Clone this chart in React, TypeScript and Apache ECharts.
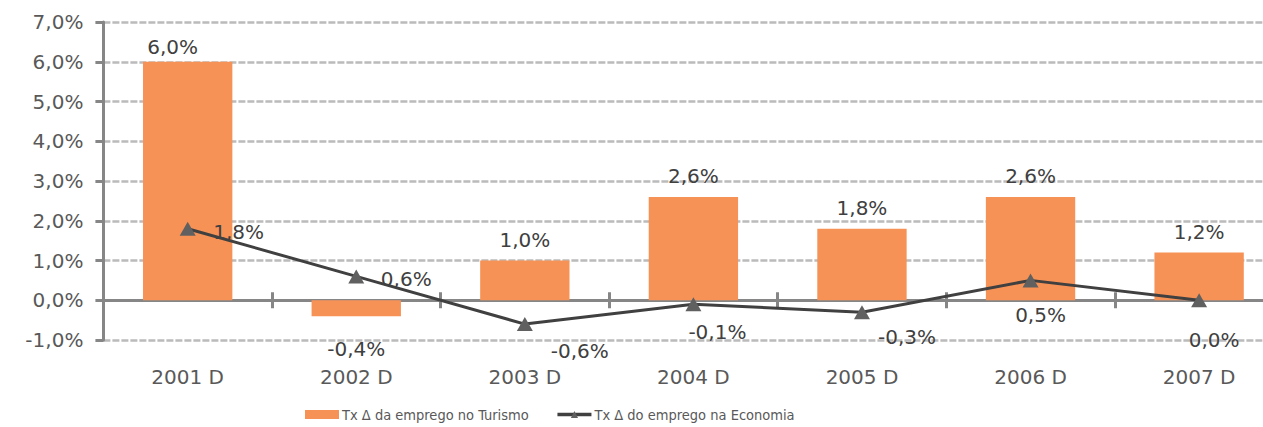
import React, { useEffect, useRef } from "react";
import * as echarts from "echarts";

const categories = ["2001 D", "2002 D", "2003 D", "2004 D", "2005 D", "2006 D", "2007 D"];
const turismo = [6.0, -0.4, 1.0, 2.6, 1.8, 2.6, 1.2];
const economia = [1.8, 0.6, -0.6, -0.1, -0.3, 0.5, 0.0];
const yTicks = { min: -1, max: 7, interval: 1 };
const economiaLabelOffsets: number[][] = [[51, 3], [50, 3], [55, 27], [24, 28], [45, 25], [10, 35], [15, 40]];

const fmt = (v: number) => v.toFixed(1).replace(".", ",") + "%";
const FONT = "DejaVu Sans, Verdana, sans-serif";
const AXIS_GRAY = "#868686";

export default function App() {
  const ref = useRef<HTMLDivElement>(null);
  useEffect(() => {
    const chart = echarts.init(ref.current!, null, { renderer: "svg" });
    chart.setOption({
      animation: false,
      backgroundColor: "#ffffff",
      textStyle: { fontFamily: FONT },
      grid: { left: 103.4, width: 1180, top: 22, bottom: 87, containLabel: false, outerBoundsMode: "none" },
      legend: {
        left: 300,
        top: 402,
        itemGap: 27,
        itemWidth: 34,
        itemHeight: 9,
        textStyle: { fontFamily: "DejaVu Sans Condensed, DejaVu Sans, sans-serif", fontSize: 14.5, color: "#595959", padding: [0, 0, 0, -2] },
        data: [
          { name: "Tx Δ da emprego no Turismo", icon: "rect" },
          { name: "Tx Δ do emprego na Economia", lineStyle: { width: 3.5, color: "#404040" } },
        ],
      },
      xAxis: [
        {
          type: "category",
          data: categories,
          boundaryGap: true,
          axisLine: { onZero: true, onZeroAxisIndex: 0, lineStyle: { color: AXIS_GRAY, width: 3 } },
          axisTick: { show: true, length: 8, inside: false, lineStyle: { color: AXIS_GRAY, width: 3 } },
          axisLabel: { show: false },
          splitLine: { show: false },
        },
        {
          type: "category",
          data: categories,
          position: "bottom",
          boundaryGap: true,
          axisLine: { show: true, onZero: true, onZeroAxisIndex: 1, lineStyle: { color: "rgba(0,0,0,0)", width: 1 } },
          axisTick: { show: true, length: 8, inside: true, lineStyle: { color: AXIS_GRAY, width: 3 } },
          axisLabel: { show: false },
          splitLine: { show: false },
        },
        {
          type: "category",
          data: categories,
          position: "bottom",
          boundaryGap: true,
          axisLine: { show: false, onZero: false },
          axisTick: { show: false },
          axisLabel: { show: true, color: "#595959", fontSize: 20, fontFamily: FONT, margin: 27 },
          splitLine: { show: false },
        },
      ],
      yAxis: [
        {
          type: "value",
          min: yTicks.min,
          max: yTicks.max,
          interval: yTicks.interval,
          axisLine: { show: true, lineStyle: { color: AXIS_GRAY, width: 3 } },
          axisTick: { show: true, length: 8, lineStyle: { color: AXIS_GRAY, width: 3 } },
          axisLabel: { color: "#595959", fontSize: 20, fontFamily: FONT, margin: 20, formatter: (v: number) => fmt(v) },
          splitLine: { show: true, lineStyle: { color: "#BBBBBB", width: 2.5, type: [7, 2] } },
        },
        {
          type: "value",
          min: yTicks.min,
          max: yTicks.max,
          interval: yTicks.interval,
          show: false,
          splitLine: { show: false },
        },
      ],
      series: [
        {
          name: "Tx Δ da emprego no Turismo",
          type: "bar",
          barWidth: "53%",
          itemStyle: { color: "#F79256" },
          data: turismo.map((v, i) => ({
            value: v,
            label: {
              show: true,
              position: v >= 0 ? "top" : "bottom",
              distance: v >= 0 ? 11 : 23,
              offset: i === 0 ? [-15, 6] : [0, 0],
              formatter: () => fmt(v),
              color: "#404040",
              fontSize: 20,
              fontFamily: FONT,
            },
          })),
          z: 2,
        },
        {
          name: "Tx Δ do emprego na Economia",
          type: "line",
          symbol: "triangle",
          symbolSize: [16, 14],
          itemStyle: { color: "#606060" },
          lineStyle: { color: "#404040", width: 3 },
          data: economia.map((v, i) => ({
            value: v,
            label: {
              show: true,
              position: "inside",
              offset: economiaLabelOffsets[i],
              formatter: () => fmt(v),
              color: "#404040",
              fontSize: 20,
              fontFamily: FONT,
            },
          })),
          z: 5,
        },
      ],
    });
    return () => chart.dispose();
  }, []);
  return <div ref={ref} style={{ position: "absolute", left: 0, top: 0, width: 1263, height: 427 }} />;
}
